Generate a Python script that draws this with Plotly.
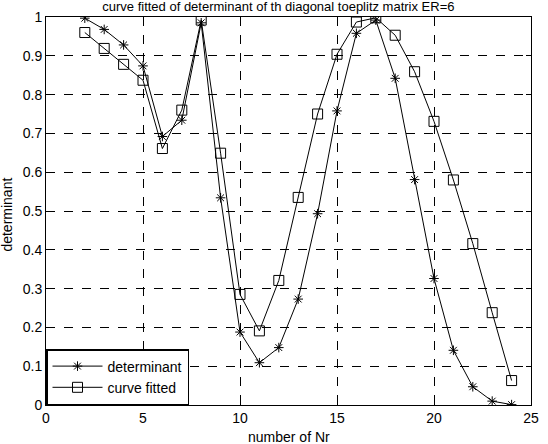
import plotly.graph_objects as go

nr = list(range(2, 25))
determinant = [0.997, 0.968, 0.928, 0.874, 0.692, 0.734, 0.985, 0.534, 0.188, 0.109,
               0.148, 0.273, 0.493, 0.758, 0.958, 0.992, 0.842, 0.581, 0.326, 0.141,
               0.047, 0.010, 0.001]
curve_fitted = [0.960, 0.919, 0.878, 0.837, 0.661, 0.760, 0.992, 0.649, 0.285, 0.191,
                0.321, 0.535, 0.750, 0.904, 0.987, 0.998, 0.953, 0.859, 0.731, 0.580,
                0.416, 0.238, 0.063]
x_ticks = [0, 5, 10, 15, 20, 25]
y_ticks = [0, 0.1, 0.2, 0.3, 0.4, 0.5, 0.6, 0.7, 0.8, 0.9, 1]
y_tick_labels = ["0", "0.1", "0.2", "0.3", "0.4", "0.5", "0.6", "0.7", "0.8", "0.9", "1"]

FONT = "Liberation Sans, Arial, sans-serif"
FS = 14

fig = go.Figure()
fig.add_trace(go.Scatter(
    x=nr, y=determinant, name="determinant", mode="lines+markers",
    line=dict(color="black", width=1),
    marker=dict(symbol="asterisk-open", size=8, color="black",
                line=dict(color="black", width=1)),
))
fig.add_trace(go.Scatter(
    x=nr, y=curve_fitted, name="curve fitted", mode="lines+markers",
    line=dict(color="black", width=1),
    marker=dict(symbol="square-open", size=10, color="black",
                line=dict(color="black", width=1)),
))

axis_common = dict(
    showline=True, linecolor="black", linewidth=1, mirror="ticks",
    ticks="inside", ticklen=5, tickcolor="black",
    showgrid=True, gridcolor="black", griddash="dash", gridwidth=1,
    zeroline=False, tickfont=dict(family=FONT, size=FS, color="black"),
)

fig.update_layout(
    width=548, height=444,
    margin=dict(l=46, r=9, t=16, b=39),
    paper_bgcolor="white", plot_bgcolor="white",
    font=dict(family=FONT, size=FS, color="black"),
    title=dict(text="curve fitted of determinant of th diagonal toeplitz matrix ER=6",
               x=0.508, xanchor="center", y=0.995, yanchor="top", yref="container",
               pad=dict(t=0, b=0, l=0, r=0),
               font=dict(family=FONT, size=13, color="black")),
    xaxis=dict(range=[0, 25], tickvals=x_ticks, **axis_common),
    yaxis=dict(range=[0, 1], tickvals=y_ticks, ticktext=y_tick_labels, **axis_common),
    showlegend=True,
    legend=dict(x=0, y=0, xanchor="left", yanchor="bottom",
                bgcolor="white", bordercolor="black", borderwidth=1.5,
                font=dict(family=FONT, size=FS, color="black"),
                itemwidth=50, tracegroupgap=0),
)

fig.add_annotation(text="number of Nr", xref="paper", yref="paper",
                   x=0.5, y=-0.056, yanchor="top", showarrow=False,
                   font=dict(family=FONT, size=FS, color="black"))
fig.add_annotation(text="determinant", xref="paper", yref="paper",
                   x=-0.081, y=0.49, xanchor="center", textangle=-90, showarrow=False,
                   font=dict(family=FONT, size=FS, color="black"))

fig.write_html("out.html")
